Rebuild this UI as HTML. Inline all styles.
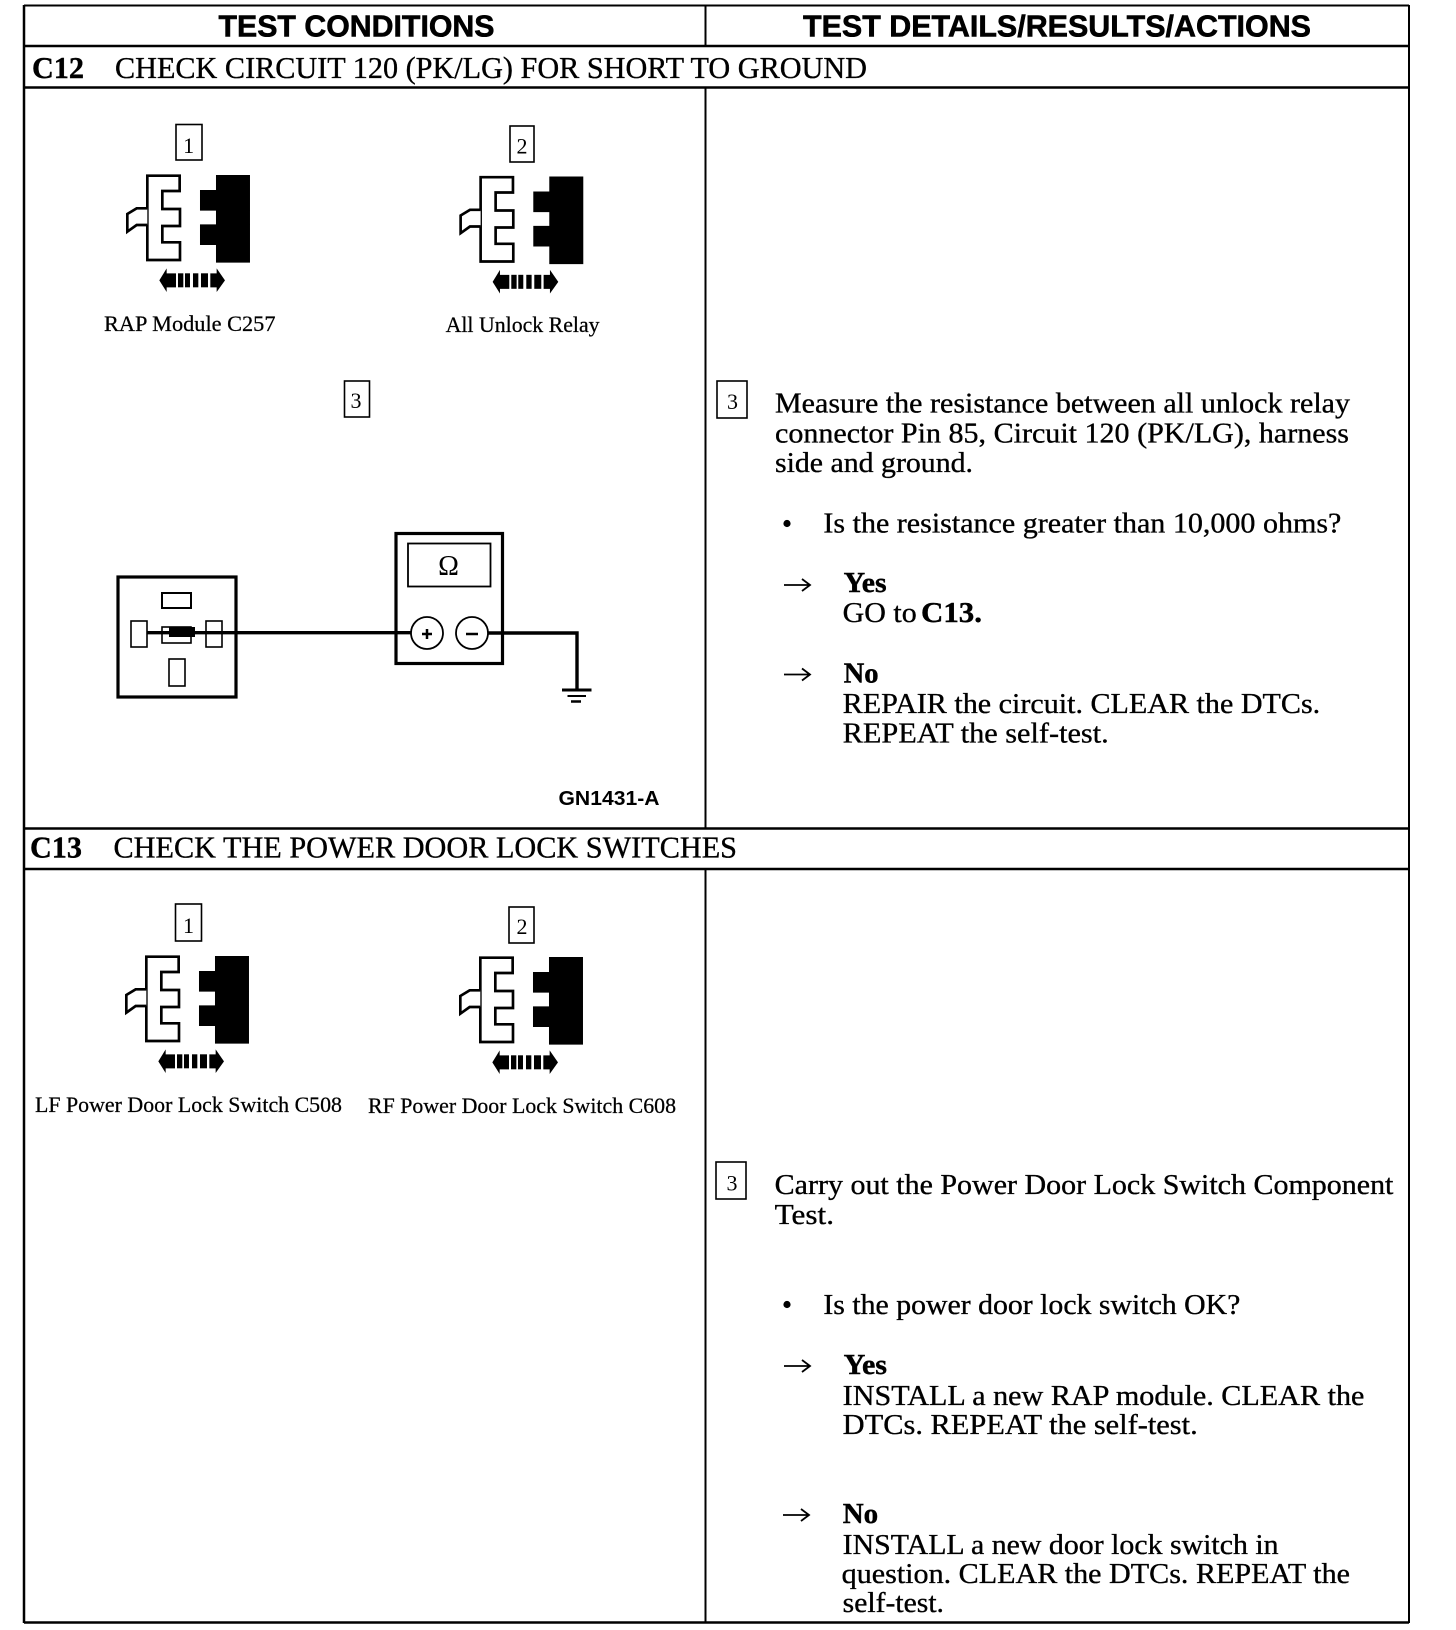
<!DOCTYPE html>
<html><head><meta charset="utf-8"><style>
html,body{margin:0;padding:0;background:#fff;width:1456px;height:1630px;overflow:hidden}
svg{position:absolute;left:0;top:0;display:block}
text{fill:#000}
.r{font-family:"Liberation Serif",serif;font-size:29px;stroke:#000;stroke-width:.35px}
.b{font-family:"Liberation Serif",serif;font-size:29px;font-weight:bold;stroke:#000;stroke-width:.4px}
.t{font-family:"Liberation Serif",serif;font-size:31px;stroke:#000;stroke-width:.35px}
.tb{font-family:"Liberation Serif",serif;font-size:31px;font-weight:bold;stroke:#000;stroke-width:.4px}
.h{font-family:"Liberation Sans",sans-serif;font-size:31px;font-weight:bold;stroke:#000;stroke-width:.6px}
.c{font-family:"Liberation Serif",serif;font-size:22px;stroke:#000;stroke-width:.25px}
.n{font-family:"Liberation Serif",serif;font-size:22px;text-anchor:middle}
.g{font-family:"Liberation Sans",sans-serif;font-size:20px;font-weight:bold}
</style></head><body>
<svg xmlns="http://www.w3.org/2000/svg" width="1456" height="1630" viewBox="0 0 1456 1630">
<defs>
<g id="conn">
<g transform="translate(100 110) scale(.3333)">
<path d="M142 197H239V243H187V297H240V348H187V397H240V450H142Z" fill="#fff" stroke="#000" stroke-width="8"/>
<path d="M142 295H110L82 312V365L110 345H142" fill="#fff" stroke="#000" stroke-width="8"/>
<path d="M348 195H450V458H348V405H300V343H348V302H300V240H348Z" fill="#000"/>
<path d="M178 511L200 475V490H228V532H200V546Z" fill="#000"/>
<rect x="234" y="490" width="16" height="42" fill="#000"/>
<rect x="255" y="490" width="15" height="42" fill="#000"/>
<rect x="279" y="490" width="16" height="42" fill="#000"/>
<rect x="303" y="490" width="21" height="42" fill="#000"/>
<path d="M375 511L350 475V490H331V532H350V546Z" fill="#000"/>
</g>
</g>
<g id="arr"><path d="M0 0H25M18 -6L26 0L18 6" fill="none" stroke="#000" stroke-width="1.8"/></g>
</defs>

<!-- table frame -->
<g stroke="#000" fill="none">
<path d="M24 5V1623" stroke-width="2.5"/>
<path d="M1409 5V1623" stroke-width="2"/>
<path d="M705.5 5V46M705.5 88V828M705.5 869V1623" stroke-width="2"/>
<path d="M24 5.5H1409" stroke-width="2"/>
<path d="M24 46H1409" stroke-width="2.5"/>
<path d="M24 87.5H1409" stroke-width="2.5"/>
<path d="M24 828.5H1409" stroke-width="2.5"/>
<path d="M24 869H1409" stroke-width="2.5"/>
<path d="M24 1622.5H1409" stroke-width="2.5"/>
</g>

<!-- headers -->
<text class="h" x="218.5" y="36.5" textLength="276" lengthAdjust="spacingAndGlyphs">TEST CONDITIONS</text>
<text class="h" x="803" y="36.5" textLength="508" lengthAdjust="spacingAndGlyphs">TEST DETAILS/RESULTS/ACTIONS</text>
<text class="tb" x="32" y="78" textLength="52" lengthAdjust="spacingAndGlyphs">C12</text>
<text class="t" x="115" y="78" textLength="752" lengthAdjust="spacingAndGlyphs">CHECK CIRCUIT 120 (PK/LG) FOR SHORT TO GROUND</text>
<text class="tb" x="30" y="857.5" textLength="52" lengthAdjust="spacingAndGlyphs">C13</text>
<text class="t" x="113.5" y="857.5" textLength="623.5" lengthAdjust="spacingAndGlyphs">CHECK THE POWER DOOR LOCK SWITCHES</text>

<!-- numbered boxes -->
<g fill="#fff" stroke="#000" stroke-width="1.6">
<rect x="176" y="124.5" width="26" height="35.5"/>
<rect x="510" y="126" width="24" height="36"/>
<rect x="344.5" y="381" width="25" height="36"/>
<rect x="175.5" y="904" width="26" height="37"/>
<rect x="509" y="907" width="25" height="36"/>
<rect x="717" y="381" width="30" height="37"/>
<rect x="716" y="1162" width="30" height="37"/>
</g>
<text class="n" x="188.6" y="153">1</text>
<text class="n" x="522" y="153.5">2</text>
<text class="n" x="356" y="408">3</text>
<text class="n" x="188.5" y="933">1</text>
<text class="n" x="522" y="934">2</text>
<text class="n" x="732.5" y="409">3</text>
<text class="n" x="732" y="1190.5">3</text>

<!-- connectors -->
<use href="#conn"/>
<use href="#conn" transform="translate(333.3 1.5)"/>
<use href="#conn" transform="translate(-1 781)"/>
<use href="#conn" transform="translate(333 782)"/>

<!-- captions -->
<text class="c" x="104" y="331" textLength="171.5" lengthAdjust="spacingAndGlyphs">RAP Module C257</text>
<text class="c" x="445.6" y="332" textLength="154" lengthAdjust="spacingAndGlyphs">All Unlock Relay</text>
<text class="c" x="35" y="1112" textLength="307" lengthAdjust="spacingAndGlyphs">LF Power Door Lock Switch C508</text>
<text class="c" x="368" y="1113" textLength="308" lengthAdjust="spacingAndGlyphs">RF Power Door Lock Switch C608</text>

<!-- circuit -->
<g fill="none" stroke="#000">
<rect x="118" y="577" width="118" height="120" stroke-width="3.2"/>
<rect x="162" y="593" width="29" height="15" stroke-width="2"/>
<rect x="131" y="621" width="16" height="26" stroke-width="1.6"/>
<rect x="162" y="627" width="29" height="16" stroke-width="1.6"/>
<rect x="206" y="621" width="16" height="26" stroke-width="1.6"/>
<rect x="169" y="659" width="16" height="27" stroke-width="1.6"/>
<rect x="396" y="533.5" width="106.5" height="130" stroke-width="3.2"/>
<rect x="408" y="543.5" width="82.5" height="43" stroke-width="1.8"/>
<path d="M147 632.7H411" stroke-width="3.4"/>
<path d="M488 633H577V689" stroke-width="3.4"/>
<path d="M562 690H591.5" stroke-width="3"/>
<path d="M567.5 696H586" stroke-width="2"/>
<path d="M571 701.5H581" stroke-width="2.5"/>
<circle cx="427" cy="633" r="16" fill="#fff" stroke-width="1.8"/>
<circle cx="472" cy="633" r="16" fill="#fff" stroke-width="1.8"/>
<path d="M422 634H432M427 629V639" stroke-width="2.5"/>
<path d="M466 634H478" stroke-width="2.5"/>
</g>
<rect x="169" y="627" width="26" height="10" fill="#000"/>
<text x="448.5" y="575" text-anchor="middle" font-family="'Liberation Serif',serif" font-size="28">Ω</text>
<text class="g" x="558.5" y="805" textLength="101" lengthAdjust="spacingAndGlyphs">GN1431-A</text>

<!-- C12 right column -->
<g transform="translate(-1 0)">
<text class="r" x="776" y="412.5" textLength="575" lengthAdjust="spacingAndGlyphs">Measure the resistance between all unlock relay</text>
<text class="r" x="776" y="442.5" textLength="574" lengthAdjust="spacingAndGlyphs">connector Pin 85, Circuit 120 (PK/LG), harness</text>
<text class="r" x="776" y="472" textLength="198" lengthAdjust="spacingAndGlyphs">side and ground.</text>
<text class="r" x="824.4" y="532.5" textLength="518" lengthAdjust="spacingAndGlyphs">Is the resistance greater than 10,000 ohms?</text>
<text class="b" x="844.6" y="592" textLength="43" lengthAdjust="spacingAndGlyphs">Yes</text>
<text class="r" x="843.7" y="622" textLength="74" lengthAdjust="spacingAndGlyphs">GO to</text>
<text class="b" x="922" y="622" textLength="61" lengthAdjust="spacingAndGlyphs">C13.</text>
<text class="b" x="844.6" y="682.5" textLength="35" lengthAdjust="spacingAndGlyphs">No</text>
<text class="r" x="843.7" y="713" textLength="477.5" lengthAdjust="spacingAndGlyphs">REPAIR the circuit. CLEAR the DTCs.</text>
<text class="r" x="843.7" y="742.5" textLength="266" lengthAdjust="spacingAndGlyphs">REPEAT the self-test.</text>

<!-- C13 right column -->
<text class="r" x="775.7" y="1194" textLength="618.7" lengthAdjust="spacingAndGlyphs">Carry out the Power Door Lock Switch Component</text>
<text class="r" x="775.7" y="1224" textLength="59.3" lengthAdjust="spacingAndGlyphs">Test.</text>
<text class="r" x="824.4" y="1314" textLength="417" lengthAdjust="spacingAndGlyphs">Is the power door lock switch OK?</text>
<text class="b" x="844.6" y="1374" textLength="43.4" lengthAdjust="spacingAndGlyphs">Yes</text>
<text class="r" x="843.7" y="1405" textLength="521.7" lengthAdjust="spacingAndGlyphs">INSTALL a new RAP module. CLEAR the</text>
<text class="r" x="843.7" y="1434" textLength="355" lengthAdjust="spacingAndGlyphs">DTCs. REPEAT the self-test.</text>
<text class="b" x="843.7" y="1523" textLength="35.5" lengthAdjust="spacingAndGlyphs">No</text>
<text class="r" x="843.7" y="1554" textLength="435.9" lengthAdjust="spacingAndGlyphs">INSTALL a new door lock switch in</text>
<text class="r" x="842.7" y="1583" textLength="508.3" lengthAdjust="spacingAndGlyphs">question. CLEAR the DTCs. REPEAT the</text>
<text class="r" x="843.7" y="1612" textLength="101.3" lengthAdjust="spacingAndGlyphs">self-test.</text>
</g>
<circle cx="787" cy="523.5" r="3.6" fill="#000"/>
<circle cx="787" cy="1304.5" r="3.6" fill="#000"/>
<use href="#arr" x="784" y="585"/>
<use href="#arr" x="784" y="674.5"/>
<use href="#arr" x="784" y="1366"/>
<use href="#arr" x="783" y="1515"/>
</svg>
</body></html>
